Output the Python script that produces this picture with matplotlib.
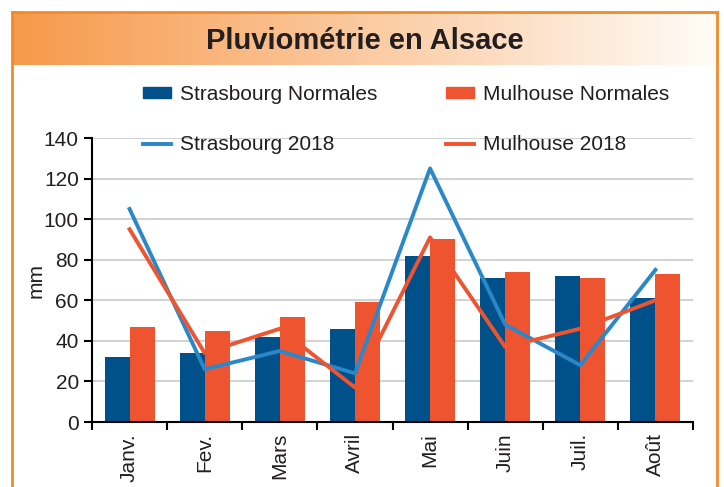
import matplotlib.pyplot as plt
import numpy as np
from matplotlib.lines import Line2D
from matplotlib.patches import Patch

plt.rcParams['font.family'] = ['Liberation Sans', 'DejaVu Sans']

# data
months = ['Janv.', 'Fev.', 'Mars', 'Avril', 'Mai', 'Juin', 'Juil.', 'Août']
stras_normales = [32, 34, 42, 46, 82, 71, 72, 61]
mulh_normales = [47, 45, 52, 59, 90, 74, 71, 73]
stras_2018 = [105, 26, 35, 24, 125, 48, 28, 75]
mulh_2018 = [95, 34, 46, 17, 91, 37, 46, 60]

dark_blue = '#00508A'
red_orange = '#EF5431'
light_blue = '#2A88C8'
frame_orange = '#F28A2A'
txt = '#231F20'

fig = plt.figure(figsize=(7.24, 4.87), dpi=100)
W, H = 724, 487

# title banner with gradient
bax = fig.add_axes([12 / W, (H - 65) / H, (717 - 12) / W, 53 / H])
grad = np.linspace(0, 1, 256).reshape(1, -1)
c0 = np.array([247, 153, 74]) / 255
c1 = np.array([255, 252, 248]) / 255
img = c0[None, None, :] * (1 - grad[..., None]) + c1[None, None, :] * grad[..., None]
bax.imshow(img, aspect='auto', extent=[0, 1, 0, 1])
bax.set_axis_off()
bax.text(0.5, 0.45, 'Pluviométrie en Alsace', ha='center', va='center',
         fontsize=21, fontweight='bold', color=txt, transform=bax.transAxes)

# orange frame
fig.add_artist(Line2D([12 / W, 12 / W], [0, (H - 12) / H], color=frame_orange, lw=2))
fig.add_artist(Line2D([717 / W, 717 / W], [0, (H - 12) / H], color=frame_orange, lw=2))
fig.add_artist(Line2D([12 / W, 717 / W], [(H - 12) / H, (H - 12) / H], color=frame_orange, lw=2))

ax = fig.add_axes([92 / W, (H - 422) / H, (693 - 92) / W, (422 - 138) / H])
x = np.arange(len(months))
w = 1 / 3
ax.bar(x - w / 2, stras_normales, w, color=dark_blue, zorder=2)
ax.bar(x + w / 2, mulh_normales, w, color=red_orange, zorder=2)
ax.plot(x, stras_2018, color=light_blue, lw=2.8, zorder=3)
ax.plot(x, mulh_2018, color=red_orange, lw=2.8, zorder=3)

ax.set_xlim(-0.5, len(months) - 0.5)
ax.set_ylim(0, 140)
ax.set_yticks(range(0, 141, 20))
ax.yaxis.grid(True, color='#C8CBCB', lw=1.2, zorder=0)
ax.set_axisbelow(True)
ax.set_xticks(np.arange(-0.5, len(months)), minor=False)
ax.set_xticklabels([])
ax.set_xticks(x, minor=True)
ax.set_xticklabels(months, minor=True, rotation=90, fontsize=15, color=txt)
ax.tick_params(axis='x', which='minor', length=0, pad=8)
ax.tick_params(axis='x', which='major', length=6, width=1.5, direction='out')
ax.tick_params(axis='y', length=6, width=1.5, labelsize=15, labelcolor=txt)
for s in ['top', 'right']:
    ax.spines[s].set_visible(False)
for s in ['left', 'bottom']:
    ax.spines[s].set_linewidth(1.5)
ax.set_ylabel('mm', fontsize=15, color=txt, labelpad=-1)

handles = [Patch(color=dark_blue), Line2D([], [], color=light_blue, lw=2.8),
           Patch(color=red_orange), Line2D([], [], color=red_orange, lw=2.8)]
labels = ['Strasbourg Normales', 'Strasbourg 2018', 'Mulhouse Normales', 'Mulhouse 2018']
leg = fig.legend(handles, labels, ncol=2, loc='upper left',
                 bbox_to_anchor=(143 / W, (H - 85) / H), frameon=False,
                 fontsize=15, handlelength=1.35, handleheight=0.45, handletextpad=0.45,
                 labelspacing=1.5, columnspacing=3.25, borderpad=0, borderaxespad=0)
for t in leg.get_texts():
    t.set_color(txt)

fig.savefig('out.png', dpi=100)
